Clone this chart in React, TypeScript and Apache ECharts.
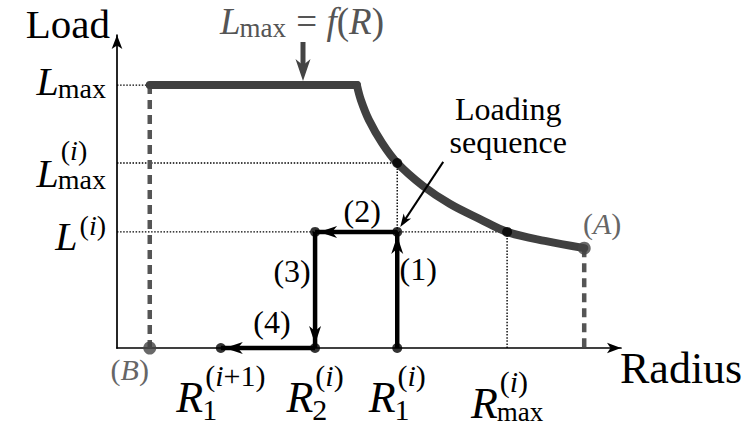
import React, { useEffect, useRef } from 'react';
import * as echarts from 'echarts';

// Capacity curve L_max = f(R): constant plateau, then decreasing with radius
const capacityPlateau = [[0.65, 8.4], [4.76, 8.4]];
const capacityCurve = [
  [4.76, 8.4], [4.84, 7.92], [5.0, 7.28], [5.26, 6.55], [5.56, 5.91], [6.07, 5.18],
  [6.61, 4.6], [7.2, 4.12], [7.74, 3.71], [8.49, 3.42], [9.27, 3.19],
];
// Loading sequence, steps (1) to (4)
const loadingPath = [[5.56, 0], [5.56, 3.71], [3.93, 3.71], [3.93, 0], [2.06, 0]];
const stepLabels = ['(1)', '(2)', '(3)', '(4)'];
// Points picked on the capacity curve
const curveMarks = [[5.56, 5.91], [7.74, 3.71]];
// Curve end points (B) and (A)
const endPoints = [[0.65, 0], [9.27, 3.19]];
const endLabels = ['(B)', '(A)'];

const xTickValues = [2.06, 3.93, 5.56, 7.74];
const xTickLabels = [
  { base: 'R', sub: '1', sup: '(i+1)' },
  { base: 'R', sub: '2', sup: '(i)' },
  { base: 'R', sub: '1', sup: '(i)' },
  { base: 'R', sub: 'max', sup: '(i)' },
];
const yTickValues = [8.4, 5.91, 3.71];
const yTickLabels = [
  { base: 'L', sub: 'max' },
  { base: 'L', sub: 'max', sup: '(i)' },
  { base: 'L', sup: '(i)' },
];
const dottedGuides = [
  [[0, 8.4], [0.65, 8.4]],
  [[0, 5.91], [5.56, 5.91]],
  [[0, 3.71], [7.74, 3.71]],
  [[5.56, 3.71], [5.56, 5.91]],
  [[7.74, 0], [7.74, 3.71]],
];
const xAxisName = 'Radius';
const yAxisName = 'Load';
const title = { base: 'L', sub: 'max', rest: ' = f(R)' };
const calloutLines = ['Loading', 'sequence'];

const FAMILY = 'Liberation Serif';
type Label = { base: string; sub?: string; sup?: string };

let measureCtx: CanvasRenderingContext2D | null = null;
function textWidth(text: string, size: number, italic: boolean) {
  if (!measureCtx) measureCtx = document.createElement('canvas').getContext('2d');
  measureCtx!.font = `${italic ? 'italic ' : ''}${size}px '${FAMILY}', serif`;
  return measureCtx!.measureText(text).width;
}
// single letters are math variables (italic), words and symbols stay upright
function tokens(s: string) {
  return (s.match(/[A-Za-z]+|[^A-Za-z]+/g) || []).map((t) => ({ t, it: /^[A-Za-z]$/.test(t) }));
}
function runWidth(s: string, size: number) {
  return tokens(s).reduce((w, tk) => w + textWidth(tk.t, size, tk.it), 0);
}
function runEls(s: string, x: number, baseline: number, size: number, color: string) {
  let cx = x;
  const els: any[] = [];
  for (const tk of tokens(s)) {
    const lead = (tk.t.match(/^\s*/) || [''])[0];
    const body = tk.t.trim();
    if (body) {
      els.push({
        type: 'text',
        silent: true,
        z: 50,
        style: {
          text: body,
          x: cx + textWidth(lead, size, tk.it),
          y: baseline - 0.34 * size,
          fontFamily: FAMILY,
          fontSize: size,
          fontStyle: tk.it ? 'italic' : 'normal',
          fill: color,
          textAlign: 'left',
          textVerticalAlign: 'middle',
        },
      });
    }
    cx += textWidth(tk.t, size, tk.it);
  }
  return els;
}
function mathWidth(l: Label, size: number, subSize: number, supSize: number) {
  const wb = runWidth(l.base, size);
  const ws = Math.max(l.sub ? runWidth(l.sub, subSize) - 1 : 0, l.sup ? runWidth(l.sup, supSize) + 2 : 0);
  return wb + ws;
}
function mathEls(
  l: Label, left: number, b: number, subB: number, supB: number,
  size: number, subSize: number, supSize: number, color: string,
) {
  const wb = runWidth(l.base, size);
  const els = runEls(l.base, left, b, size, color);
  if (l.sub) els.push(...runEls(l.sub, left + wb - 1, subB, subSize, color));
  if (l.sup) els.push(...runEls(l.sup, left + wb + 2, supB, supSize, color));
  return els;
}
// stealth-style head with its tip at (x2, y2), pointing away from (x1, y1)
function headEl(x1: number, y1: number, x2: number, y2: number, headLen: number, headW: number, color: string) {
  const dx = x2 - x1;
  const dy = y2 - y1;
  const len = Math.hypot(dx, dy);
  const ux = dx / len;
  const uy = dy / len;
  const nx = -uy;
  const ny = ux;
  const bx = x2 - ux * headLen;
  const by = y2 - uy * headLen;
  return {
    type: 'polygon', silent: true, z: 41,
    shape: {
      points: [
        [x2, y2],
        [bx + (nx * headW) / 2, by + (ny * headW) / 2],
        [x2 - ux * headLen * 0.72, y2 - uy * headLen * 0.72],
        [bx - (nx * headW) / 2, by - (ny * headW) / 2],
      ],
    },
    style: { fill: color },
  };
}
function arrowEls(x1: number, y1: number, x2: number, y2: number, width: number, headLen: number, headW: number, color: string) {
  const len = Math.hypot(x2 - x1, y2 - y1);
  const k = 1 - (headLen * 0.6) / len;
  return [
    {
      type: 'line', silent: true, z: 40,
      shape: { x1, y1, x2: x1 + (x2 - x1) * k, y2: y1 + (y2 - y1) * k },
      style: { stroke: color, lineWidth: width },
    },
    headEl(x1, y1, x2, y2, headLen, headW, color),
  ];
}

const lineBase = { type: 'line', showSymbol: false, silent: true, clip: false };

const axisCommon = {
  type: 'value',
  min: 0,
  max: 10,
  axisLine: {
    show: true,
    symbol: ['none', 'arrow'],
    symbolSize: [8, 14],
    lineStyle: { color: '#000', width: 1.7 },
  },
  axisTick: { show: false },
  axisLabel: { show: false },
  splitLine: { show: false },
};

const option: any = {
  animation: false,
  backgroundColor: '#fff',
  grid: { left: 117, right: 129, top: 35, bottom: 80, outerBoundsMode: 'none' },
  xAxis: { ...axisCommon },
  yAxis: { ...axisCommon },
  series: [
    ...dottedGuides.map((seg) => ({
      ...lineBase, data: seg, z: 1,
      lineStyle: { color: '#000', width: 1.4, type: [1.5, 1.6] },
    })),
    ...[
      [capacityPlateau[0], endPoints[0]],
      [endPoints[1], [endPoints[1][0], 0]],
    ].map((seg) => ({
      ...lineBase, data: seg, z: 2,
      lineStyle: { color: '#555', width: 4.5, type: [9, 6] },
    })),
    {
      ...lineBase, data: capacityPlateau, z: 3,
      lineStyle: { color: '#404040', width: 8, cap: 'round', join: 'round' },
    },
    {
      ...lineBase, data: capacityCurve, z: 3, smooth: 0.35,
      lineStyle: { color: '#404040', width: 8, cap: 'round', join: 'round' },
    },
    ...loadingPath.slice(1).map((p, i) => ({
      ...lineBase, data: [loadingPath[i], p], z: 4,
      lineStyle: { color: '#000', width: 4.5 },
    })),
    {
      type: 'scatter', silent: true, clip: false, z: 6,
      symbol: 'circle', symbolSize: 10,
      itemStyle: { color: '#000' },
      data: [...loadingPath, ...curveMarks],
    },
    {
      type: 'scatter', silent: true, clip: false, z: 6,
      symbol: 'circle', symbolSize: 13,
      itemStyle: { color: '#444' },
      data: endPoints,
    },
  ],
};

function buildAnnotations(chart: echarts.ECharts) {
  const toPx = (p: number[]) => chart.convertToPixel({ gridIndex: 0 }, p) as number[];
  const [ox, oy] = toPx([0, 0]);
  const topY = toPx([0, 10])[1];
  const rightX = toPx([10, 0])[0];
  const els: any[] = [];

  // load tick labels, left of the y axis
  yTickValues.forEach((v, i) => {
    const l = yTickLabels[i];
    const ty = toPx([0, v])[1];
    const size = 40;
    const scr = 28;
    const left = ox - 11 - mathWidth(l, size, scr, scr);
    let b = ty + 18;
    let subB = b;
    let supB = b - 15;
    if (l.sub && l.sup) { b = ty + 24; subB = b + 2; supB = b - 27; }
    else if (l.sub) { b = ty + 10; subB = b + 3; }
    els.push(...mathEls(l, left, b, subB, supB, size, scr, scr, '#000'));
  });

  // radius tick labels under the x axis
  xTickValues.forEach((v, i) => {
    const l = xTickLabels[i];
    const tx = toPx([v, 0])[0];
    const size = 44;
    const wordSub = (l.sub || '').length > 1;
    const subSize = wordSub ? 27 : 30;
    const supSize = 30;
    const left = tx - mathWidth(l, size, subSize, supSize) / 2;
    const b = oy + (wordSub ? 70 : 64);
    els.push(...mathEls(l, left, b, b + (wordSub ? 3 : 8), b - 26, size, subSize, supSize, '#000'));
  });

  // axis names
  els.push(...runEls(yAxisName, ox - 7 - runWidth(yAxisName, 41), topY + 3, 41, '#000'));
  els.push(...runEls(xAxisName, rightX - 1, oy + 35, 44, '#000'));

  // title with its arrow onto the plateau
  const plateauY = toPx(capacityPlateau[0])[1];
  const tSize = 37;
  const wL = runWidth(title.base, tSize);
  const wSub = runWidth(title.sub, 27);
  const wRest = runWidth(title.rest, tSize);
  const tLeft = 302 - (wL + wSub + wRest) / 2;
  const tBase = topY - 1;
  els.push(...runEls(title.base, tLeft, tBase, tSize, '#555'));
  els.push(...runEls(title.sub, tLeft + wL - 1, tBase + 3, 27, '#555'));
  els.push(...runEls(title.rest, tLeft + wL + wSub, tBase, tSize, '#555'));
  els.push(...arrowEls(303, topY + 7, 303, plateauY - 4, 5, 22, 15, '#444'));

  // arrowheads of the loading steps, tips resting on the end dots
  const p = loadingPath.map(toPx);
  for (let i = 1; i < p.length; i++) {
    const [x1, y1] = p[i - 1];
    const [x2, y2] = p[i];
    const len = Math.hypot(x2 - x1, y2 - y1);
    const tx = x2 - ((x2 - x1) / len) * 4;
    const ty = y2 - ((y2 - y1) / len) * 4;
    els.push(headEl(x1, y1, tx, ty, 18, 12, '#000'));
  }

  // step numbers next to their segments
  const stepCenters = [
    [p[0][0] + 21, (p[0][1] + p[1][1]) / 2 - 18],
    [(p[1][0] + p[2][0]) / 2 + 6, p[1][1] - 18],
    [p[2][0] - 23, (p[2][1] + p[3][1]) / 2 - 16],
    [(p[3][0] + p[4][0]) / 2 + 4, p[3][1] - 23],
  ];
  stepLabels.forEach((s, i) => {
    const [cx, cy] = stepCenters[i];
    els.push(...runEls(s, cx - runWidth(s, 32) / 2, cy + 8, 32, '#000'));
  });

  // callout
  const target = p[1];
  calloutLines.forEach((s, i) => {
    els.push(...runEls(s, target[0] + 111 - runWidth(s, 32) / 2, target[1] - 112 + i * 33, 32, '#000'));
  });
  els.push(...arrowEls(target[0] + 46, target[1] - 70, target[0] + 3, target[1] - 5, 2, 13, 9, '#000'));

  // end point names
  const endOffsets = [[-20, 24], [18, -22]];
  endPoints.forEach((pt, i) => {
    const [x, y] = toPx(pt);
    const s = endLabels[i];
    const cx = x + endOffsets[i][0];
    const cy = y + endOffsets[i][1];
    els.push(...runEls(s, cx - runWidth(s, 30) / 2, cy + 8, 30, '#666'));
  });

  return els;
}

export default function App() {
  const ref = useRef<HTMLDivElement>(null);
  useEffect(() => {
    const chart = echarts.init(ref.current!, null, { renderer: 'svg' });
    chart.setOption(option);
    chart.setOption({ graphic: { elements: buildAnnotations(chart) } });
    return () => chart.dispose();
  }, []);
  return (
    <div
      ref={ref}
      style={{ position: 'fixed', left: 0, top: 0, width: 750, height: 428, background: '#fff' }}
    />
  );
}
